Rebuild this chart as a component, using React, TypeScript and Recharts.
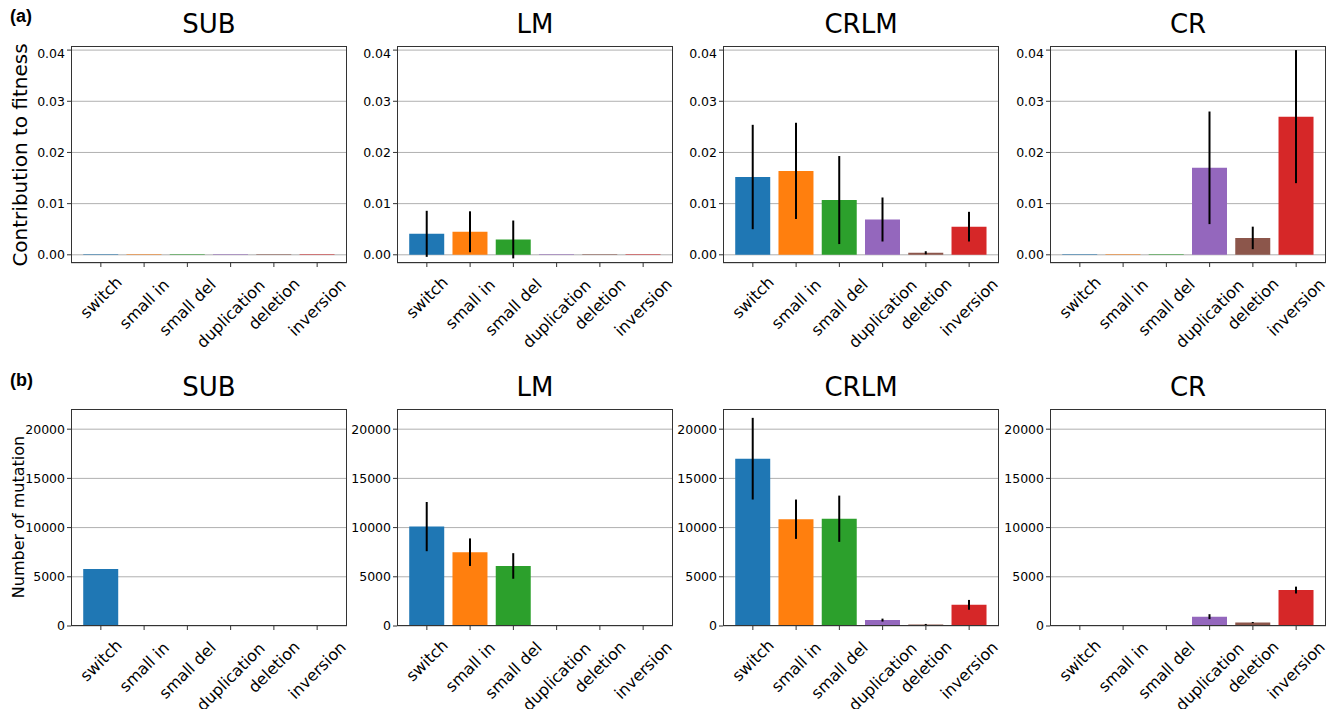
import React from "react";
import { BarChart, Bar, XAxis, YAxis, CartesianGrid, ErrorBar, Cell } from "recharts";

const categories = ["switch", "small in", "small del", "duplication", "deletion", "inversion"];
const colors = ["#1f77b4", "#ff7f0e", "#2ca02c", "#9467bd", "#8c564b", "#d62728"];
const panelTitles = ["SUB", "LM", "CRLM", "CR"];

const fitSUB = [0.00012, 0.00012, 0.00012, 0.00012, 0.00012, 0.00012];
const fitSUBErr = [0, 0, 0, 0, 0, 0];
const fitLM = [0.0041, 0.0045, 0.003, 0.00012, 0.00012, 0.00012];
const fitLMErr = [0.0045, 0.004, 0.0037, 0, 0, 0];
const fitCRLM = [0.0152, 0.0164, 0.0107, 0.0069, 0.0004, 0.0055];
const fitCRLMErr = [0.0102, 0.0094, 0.0086, 0.0043, 0.0003, 0.0029];
const fitCR = [0.00012, 0.00012, 0.00012, 0.017, 0.0033, 0.027];
const fitCRErr = [0, 0, 0, 0.011, 0.0022, 0.013];

const mutSUB = [5800, 50, 50, 50, 50, 50];
const mutSUBErr = [0, 0, 0, 0, 0, 0];
const mutLM = [10100, 7500, 6100, 40, 40, 40];
const mutLMErr = [2500, 1400, 1300, 0, 0, 0];
const mutCRLM = [17000, 10850, 10900, 600, 150, 2150];
const mutCRLMErr = [4150, 2000, 2350, 150, 60, 500];
const mutCR = [40, 30, 40, 950, 350, 3650];
const mutCRErr = [0, 0, 0, 250, 60, 350];

const fitTicks = [0, 0.01, 0.02, 0.03, 0.04];
const mutTicks = [0, 5000, 10000, 15000, 20000];

const rowA = [fitSUB, fitLM, fitCRLM, fitCR];
const rowAErr = [fitSUBErr, fitLMErr, fitCRLMErr, fitCRErr];
const rowB = [mutSUB, mutLM, mutCRLM, mutCR];
const rowBErr = [mutSUBErr, mutLMErr, mutCRLMErr, mutCRErr];

const plotLefts = [71, 397, 723, 1050];
const plotW = 276;
const rowTops = [46, 409];
const plotH = 217;
const font = "DejaVu Sans, sans-serif";

const XTick = (props: any) => {
  const { x, y, payload } = props;
  const label = categories[payload.value] ?? "";
  const fs = 16;
  const tw = label.length * fs * 0.58;
  const h = tw * Math.SQRT1_2 + fs * Math.SQRT1_2;
  const cy = y + 3 + h / 2;
  return (
    <text x={x} y={cy} dy={fs * 0.35} textAnchor="middle" fontSize={fs} fill="#000" fontFamily={font}
      transform={`rotate(-45, ${x}, ${cy})`}>{label}</text>
  );
};

function Panel({ values, errs, left, top, domain, ticks, fmt }: any) {
  const data = values.map((v: number, i: number) => ({ x: i, v, e: errs[i] }));
  return (
    <div style={{ position: "absolute", left: left - 60, top: top, width: plotW + 65, height: plotH + 100 }}>
      <BarChart width={plotW + 65} height={plotH + 100} data={data}
        margin={{ top: 0, right: 5, bottom: 0, left: 0 }}>
        <CartesianGrid vertical={false} stroke="#b0b0b0" strokeWidth={1} />
        <XAxis dataKey="x" type="number" domain={[-0.69, 5.69]} ticks={[0, 1, 2, 3, 4, 5]}
          height={100} tick={<XTick />} tickSize={4} stroke="#333" axisLine={false} interval={0} />
        <YAxis type="number" domain={domain} ticks={ticks} width={60} tickFormatter={fmt}
          tick={{ fontSize: 12.5, fill: "#000", fontFamily: font }} tickSize={4} stroke="#333"
          axisLine={false} allowDataOverflow />
        <Bar dataKey="v" barSize={35} isAnimationActive={false}>
          {data.map((_: any, i: number) => <Cell key={i} fill={colors[i]} />)}
          <ErrorBar dataKey="e" width={0} stroke="#000" strokeWidth={2} />
        </Bar>
      </BarChart>
      <div style={{ position: "absolute", left: 60, top: 0, width: plotW, height: plotH, border: "1px solid #333", boxSizing: "border-box", pointerEvents: "none" }} />
    </div>
  );
}

export default function App() {
  return (
    <div style={{ position: "absolute", left: 0, top: 0, width: 1341, height: 709, background: "#fff", fontFamily: font, overflow: "hidden" }}>
      <div style={{ position: "absolute", left: 10, top: 6, fontSize: 18, fontWeight: "bold", fontFamily: "Liberation Sans, sans-serif" }}>(a)</div>
      <div style={{ position: "absolute", left: 10, top: 370, fontSize: 18, fontWeight: "bold", fontFamily: "Liberation Sans, sans-serif" }}>(b)</div>
      {panelTitles.map((t, i) => (
        <React.Fragment key={t}>
          <div style={{ position: "absolute", left: plotLefts[i], width: plotW, top: 9, textAlign: "center", fontSize: 26 }}>{t}</div>
          <div style={{ position: "absolute", left: plotLefts[i], width: plotW, top: 372, textAlign: "center", fontSize: 26 }}>{t}</div>
          <Panel values={rowA[i]} errs={rowAErr[i]} left={plotLefts[i]} top={rowTops[0]} domain={[-0.0016, 0.0408]} ticks={fitTicks} fmt={(v: number) => v.toFixed(2)} />
          <Panel values={rowB[i]} errs={rowBErr[i]} left={plotLefts[i]} top={rowTops[1]} domain={[0, 22050]} ticks={mutTicks} fmt={(v: number) => String(v)} />
        </React.Fragment>
      ))}
      <div style={{ position: "absolute", left: 20, top: 155, transform: "translate(-50%, -50%) rotate(-90deg)", fontSize: 20, whiteSpace: "nowrap" }}>Contribution to fitness</div>
      <div style={{ position: "absolute", left: 18, top: 517, transform: "translate(-50%, -50%) rotate(-90deg)", fontSize: 16, whiteSpace: "nowrap" }}>Number of mutation</div>
    </div>
  );
}
